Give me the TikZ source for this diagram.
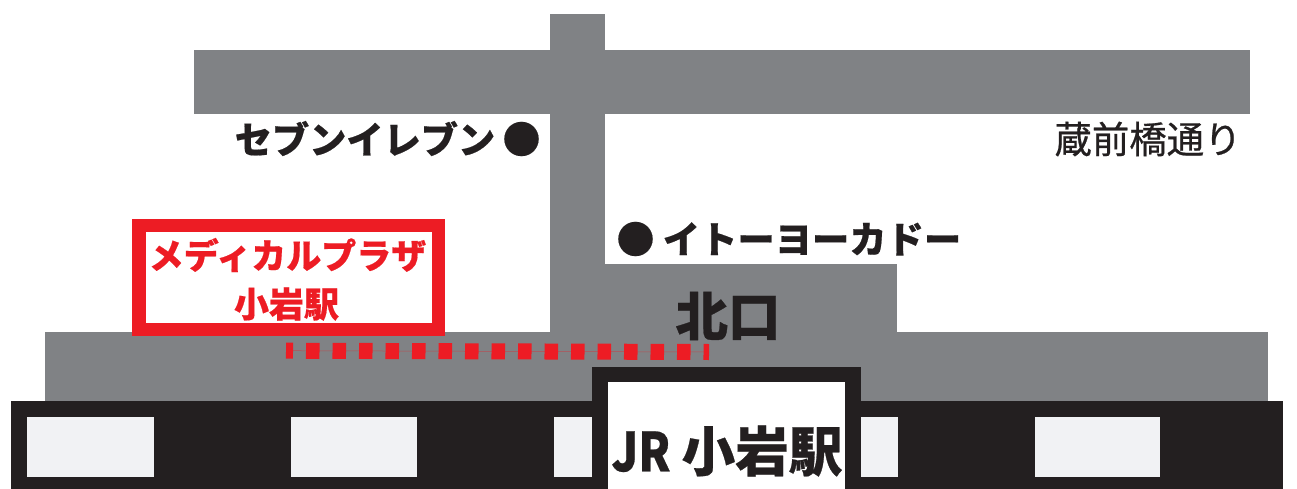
\documentclass[tikz,border=0pt]{standalone}
\usepackage{graphicx}
\usepackage{fontspec}
\setmainfont{Noto Sans CJK JP}[BoldFeatures={FakeBold=0.5}]
\newfontfamily\medf{Noto Sans CJK JP}[FakeBold=0.6]
\definecolor{roadc}{HTML}{808285}
\definecolor{railc}{HTML}{231F20}
\definecolor{platc}{HTML}{F1F2F4}
\definecolor{redc}{HTML}{ED1C24}
\tikzset{x=1pt,y=-1pt,
 roadp/.style={fill=roadc,draw=none},
 railp/.style={fill=railc,draw=none},
 platp/.style={fill=platc,draw=none},
 lbl/.style={font=\bfseries\fontsize{#1}{#1}\selectfont,text=railc,inner sep=0pt,anchor=center},
 lbl/.default=36}
\begin{document}
\begin{tikzpicture}
\useasboundingbox (0,0) rectangle (1297,489);
\fill[white] (0,0) rectangle (1297,489);
\path[roadp] (194,50) rectangle (1250,114);
\path[roadp] (550,14) rectangle (605,340);
\path[roadp] (605,264) rectangle (897,340);
\path[roadp] (45,332) rectangle (1268,402);
\path[railp] (10.5,401) rectangle (1283,489);
\foreach \a/\b in {26.5/154,291/417,554/592,861/898,1035/1160}
  \path[platp] (\a,417) rectangle (\b,477);
\path[railp] (592,367) rectangle (861,489);
\fill[white] (608,382) rectangle (845,489);
\draw[redc,line width=13.5pt,fill=white] (139,225.5) rectangle (438.5,329.5);
\node[lbl=35,text=redc] (t1) at (287.5,255) {メディカルプラザ};
\node[lbl=35,text=redc] (t2) at (286.5,304) {小岩駅};
\draw[redc,opacity=.5,line width=.5pt] (286,350.7) -- (709,352);
\draw[redc,line width=16pt,dash pattern=on 13.5pt off 13pt,dash phase=6.5pt] (286,350.7) -- (709,352);
\node[lbl=37.2] (a) at (365,138.5) {セブンイレブン};
\node[lbl=38] (b) at (521.5,139) {●};
\node[lbl=38] (c) at (635.5,239) {●};
\node[lbl=37.3] (d) at (812,239) {イトーヨーカドー};
\node[lbl=37.4,font=\medf\fontsize{37.4}{37.4}\selectfont] (e) at (1148,139) {蔵前橋通り};
\node[lbl=52.5] (f) at (728,316) {北口};
\node[lbl=53.6] (g) at (727,451) {\scalebox{.85}[1]{JR}\hspace{11pt}小岩駅};
\end{tikzpicture}
\end{document}
